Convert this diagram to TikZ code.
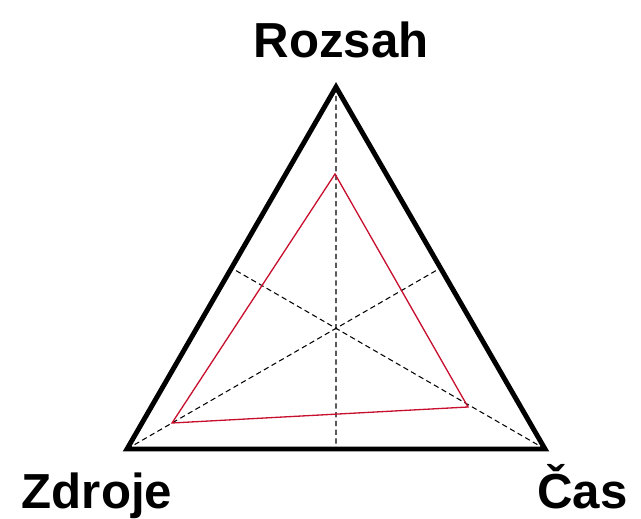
\documentclass[tikz,border=0pt]{standalone}
\usepackage{fontspec}
\setmainfont{Liberation Sans}
\usetikzlibrary{calc,positioning}
\definecolor{projred}{HTML}{C8102E}

\begin{document}
\begin{tikzpicture}[
  x=0.02cm, y=-0.02cm,
  every node/.style={font=\fontsize{28}{30}\selectfont\bfseries, inner sep=0pt},
  outline/.style={line width=2.8pt, line join=miter},
  median/.style={dashed, line width=0.6pt, dash pattern=on 3pt off 2pt},
  actual/.style={draw=projred, line width=0.75pt, line join=miter}
]
\useasboundingbox (0,0) rectangle (641,519);

%% corners of the triangle
\coordinate (scope) at (336,87);
\coordinate (res)   at (127,449);
\coordinate (time)  at (545,449);

%% midpoints of the sides
\coordinate (mscope) at ($(res)!0.5!(time)$);
\coordinate (mres)   at ($(scope)!0.5!(time)$);
\coordinate (mtime)  at ($(scope)!0.5!(res)$);

%% medians
\foreach \a/\b in {scope/mscope, res/mres, time/mtime}
  \draw[median] (\a) -- (\b);

%% outer triangle
\draw[outline] (scope) -- (res) -- (time) -- cycle;

%% inner (red) triangle
\coordinate (iscope) at (335,174);
\coordinate (ires)   at (172,423);
\coordinate (itime)  at (468,407);
\draw[actual] (iscope) -- (ires) -- (itime) -- cycle;

%% labels
\node[anchor=base] (lscope) at (341,58) {Rozsah};
\node[anchor=base] (lres)   at (97,508) {Zdroje};
\node[anchor=base east] (ltime) at (628,508) {Čas};

\end{tikzpicture}
\end{document}
